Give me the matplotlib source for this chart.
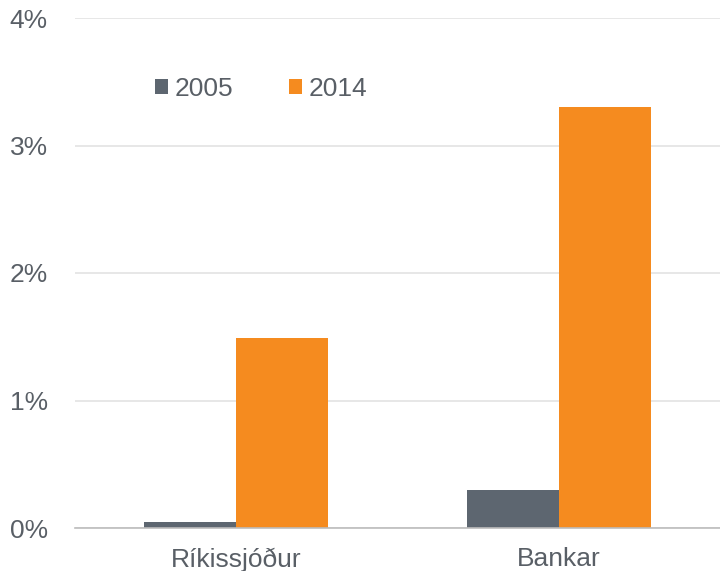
import matplotlib.pyplot as plt
import numpy as np

categories = ["Ríkissjóður", "Bankar"]
series_names = ["2005", "2014"]
values_2005 = [0.05, 0.30]
values_2014 = [1.49, 3.30]
y_ticks = [0, 1, 2, 3, 4]

plt.rcParams['font.family'] = ['Liberation Sans', 'DejaVu Sans']
text_color = "#595f66"

fig = plt.figure(figsize=(7.2, 5.71), dpi=100)
ax = fig.add_axes([75 / 720, 43 / 571, 645 / 720, 510 / 571])

x = np.arange(len(categories))
width = 0.285
ax.bar(x - width / 2, values_2005, width, color="#5d6670", label=series_names[0], zorder=3)
ax.bar(x + width / 2, values_2014, width, color="#f58b1f", label=series_names[1], zorder=3)

ax.set_xlim(-0.5, 1.5)
ax.set_ylim(0, 4)
ax.set_yticks(y_ticks)
ax.set_yticklabels([f"{t}%" for t in y_ticks])
ax.set_xticks(x)
ax.set_xticklabels(categories)
ax.tick_params(axis="both", length=0, labelsize=19, labelcolor=text_color)
ax.tick_params(axis="y", pad=19.5)
ax.tick_params(axis="x", pad=14)

ax.grid(axis="y", color="#e3e3e3", linewidth=1.2, zorder=0)
for side in ["top", "right", "left"]:
    ax.spines[side].set_visible(False)
ax.spines["bottom"].set_color("#bcbcbc")
ax.spines["bottom"].set_linewidth(1.2)
ax.spines["bottom"].set_zorder(4)

leg = ax.legend(loc="center left", bbox_to_anchor=(142 / 720, 1 - 89 / 571),
                bbox_transform=fig.transFigure, ncol=2, frameon=False,
                fontsize=19, handlelength=0.5, handleheight=0.5,
                handletextpad=0.25, columnspacing=2.1, borderpad=0)
for t in leg.get_texts():
    t.set_color(text_color)

fig.savefig("out.png", dpi=100)
